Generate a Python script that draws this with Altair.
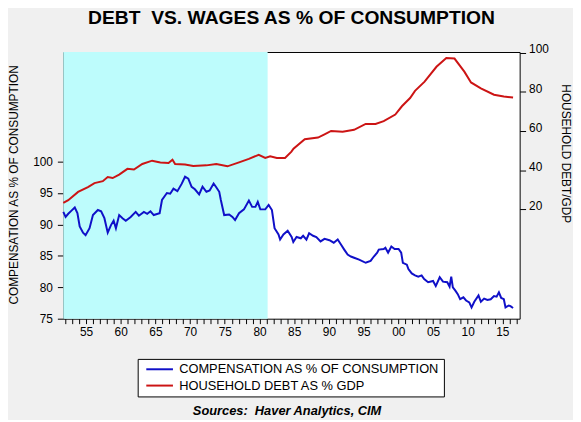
import altair as alt
import pandas as pd

FONT = "Liberation Sans"

# ---- data ----
series_names = ["COMPENSATION AS % OF CONSUMPTION", "HOUSEHOLD DEBT AS % GDP"]

comp_years = [
    1951.73, 1952.06, 1952.44, 1952.91, 1953.38, 1953.76, 1954.09, 1954.57, 1954.94, 1955.51,
    1956.00, 1956.71, 1957.18, 1957.65, 1958.13, 1958.60, 1958.98, 1959.31, 1959.78, 1960.26,
    1960.73, 1961.44, 1962.16, 1962.62, 1963.34, 1963.82, 1964.29, 1964.76, 1965.61, 1965.95,
    1966.66, 1967.13, 1967.60, 1968.17, 1968.80, 1969.27, 1969.74, 1970.22, 1970.69, 1971.30,
    1971.79, 1972.35, 1972.82, 1973.39, 1973.72, 1974.20, 1974.43, 1974.91, 1975.63, 1976.10,
    1976.48, 1977.05, 1977.76, 1978.47, 1978.94, 1979.41, 1979.75, 1980.12, 1980.83, 1981.32,
    1981.79, 1982.17, 1982.74, 1982.97, 1983.45, 1984.06, 1984.63, 1984.87, 1985.34, 1985.95,
    1986.29, 1986.76, 1987.15, 1987.72, 1988.19, 1988.80, 1989.37, 1990.08, 1990.70, 1991.27,
    1991.74, 1992.21, 1992.70, 1993.17, 1993.63, 1994.35, 1995.30, 1996.01, 1996.48, 1996.96,
    1997.19, 1997.90, 1998.14, 1998.53, 1999.00, 1999.47, 2000.04, 2000.42, 2000.66, 2001.23,
    2001.46, 2001.94, 2002.41, 2002.88, 2003.36, 2003.73, 2004.30, 2005.01, 2005.40, 2005.97,
    2006.44, 2007.06, 2007.39, 2007.63, 2007.86, 2008.20, 2008.57, 2008.91, 2009.38, 2009.77,
    2010.23, 2010.56, 2010.95, 2011.56, 2011.90, 2012.37, 2012.84, 2013.32, 2013.79, 2014.17,
    2014.50, 2014.83, 2015.21, 2015.45, 2015.92, 2016.17, 2016.54,
]
comp_values = [
    92.0, 91.2, 91.7, 92.2, 92.7, 91.8, 89.7, 88.7, 88.3, 89.4,
    91.5, 92.3, 92.1, 91.0, 88.7, 89.9, 90.6, 89.4, 91.5, 91.0,
    90.6, 91.2, 92.0, 91.4, 92.0, 91.7, 92.1, 91.5, 91.8, 93.9,
    95.0, 94.9, 95.7, 95.3, 96.5, 97.6, 97.3, 96.0, 95.6, 94.8,
    96.0, 95.2, 95.4, 96.5, 96.0, 95.2, 93.9, 91.5, 91.6, 91.2,
    90.7, 91.8, 92.4, 93.8, 92.8, 92.8, 93.6, 92.4, 92.4, 93.1,
    92.3, 89.4, 88.4, 87.6, 88.4, 89.0, 88.0, 87.2, 88.0, 87.8,
    88.2, 87.6, 88.6, 88.2, 88.0, 87.3, 87.7, 87.5, 87.1, 87.6,
    86.8, 86.0, 85.2, 84.9, 84.7, 84.4, 83.9, 84.2, 84.9, 85.5,
    86.0, 86.1, 86.3, 85.5, 86.5, 86.1, 86.1, 85.5, 83.9, 83.6,
    82.9, 82.2, 81.9, 81.7, 81.9, 81.3, 80.8, 81.0, 80.2, 81.6,
    80.9, 80.8, 80.1, 81.7, 80.0, 79.5, 78.9, 78.1, 78.4, 77.9,
    77.6, 76.8, 77.7, 78.7, 77.7, 78.2, 78.0, 78.1, 78.6, 78.5,
    79.2, 78.3, 78.1, 76.8, 77.1, 77.0, 76.7,
]

debt_years = [
    1951.73, 1952.44, 1953.86, 1955.28, 1956.22, 1957.42, 1958.13, 1958.84, 1959.78, 1960.97,
    1961.91, 1963.11, 1964.53, 1965.71, 1966.89, 1967.46, 1967.84, 1969.27, 1970.45, 1972.35,
    1973.78, 1975.38, 1977.05, 1978.47, 1979.89, 1980.83, 1981.54, 1982.50, 1983.68, 1984.60,
    1984.90, 1986.52, 1988.43, 1989.37, 1990.32, 1991.98, 1993.63, 1995.30, 1996.72, 1997.90,
    1999.57, 2000.52, 2001.70, 2002.41, 2003.79, 2005.50, 2006.92, 2008.10, 2009.52, 2010.48,
    2011.90, 2013.79, 2015.21, 2016.54,
]
debt_values = [
    23.3, 24.7, 28.9, 31.4, 33.4, 34.4, 36.5, 36.0, 37.8, 40.7,
    40.4, 43.2, 44.9, 44.0, 43.7, 45.4, 43.2, 42.9, 42.2, 42.5,
    43.2, 42.0, 44.0, 45.8, 47.9, 46.3, 47.1, 46.3, 46.3, 49.5,
    51.0, 55.9, 56.7, 58.4, 60.1, 59.7, 60.7, 63.7, 63.7, 65.1,
    68.5, 72.7, 76.9, 80.6, 85.3, 92.9, 97.4, 97.1, 90.4, 84.9,
    81.9, 78.6, 77.7, 77.2,
]

shade_start = [1951.73]
shade_end = [1981.17]

year_ticks = list(range(1952, 2018))
left_ticks = [75, 80, 85, 90, 95, 100]
right_ticks = [20, 40, 60, 80, 100]

# ---- tables ----
comp_df = pd.DataFrame({"year": comp_years, "value": comp_values, "series": series_names[0]})
debt_df = pd.DataFrame({"year": debt_years, "value": debt_values, "series": series_names[1]})
shade_df = pd.DataFrame({"start": shade_start, "end": shade_end})

BLUE = "#1010c8"
RED = "#cc1414"
CYAN = "#bdfcfc"

x_scale = alt.Scale(domain=[1951.73, 2017.49], nice=False, zero=False)
x_axis = alt.Axis(
    values=year_ticks,
    labelExpr="datum.value % 5 == 0 ? substring(toString(datum.value), 2, 4) : ''",
    grid=False, domain=False, tickSize=5, tickColor="black",
    labelPadding=3, labelFlush=False, labelOverlap=False,
    title="Sources:\u00a0 Haver Analytics, CIM",
    titleFont=FONT, titleFontSize=13, titleFontWeight="bold", titleFontStyle="italic",
    titleColor="black", titleX=226, titleY=96.6, titleBaseline="alphabetic", titleAlign="center",
)

color_scale = alt.Scale(domain=series_names, range=[BLUE, RED])
legend = alt.Legend(
    title=None, orient="none", legendX=75.3, legendY=310.7, direction="vertical",
    strokeColor="black", fillColor="white", padding=4, cornerRadius=0,
    symbolType="M-0.4,0H5.6", symbolSize=81, symbolStrokeWidth=2,
    labelFont=FONT, labelFontSize=13, labelColor="black", labelOffset=25,
    labelLimit=500, rowPadding=2.5,
)

shade = alt.Chart(shade_df).mark_rect(color=CYAN).encode(
    x=alt.X("start:Q", scale=x_scale, axis=x_axis),
    x2="end:Q",
)

comp = alt.Chart(comp_df).mark_line(strokeWidth=2).encode(
    x=alt.X("year:Q", scale=x_scale, axis=x_axis),
    y=alt.Y(
        "value:Q",
        scale=alt.Scale(domain=[75, 117.45], nice=False, zero=False),
        axis=alt.Axis(
            orient="left", values=left_ticks, grid=False, domain=False,
            tickSize=6, tickColor="black", labelPadding=5, labelOverlap=False,
            title="COMPENSATION AS % OF CONSUMPTION",
            titleFont=FONT, titleFontSize=12, titleFontWeight="normal", titleColor="black",
            titleAngle=270, titleX=-50, titleY=134, titleBaseline="middle", titleAlign="center",
        ),
    ),
    color=alt.Color("series:N", scale=color_scale, legend=legend),
)

debt = alt.Chart(debt_df).mark_line(strokeWidth=2).encode(
    x=alt.X("year:Q", scale=x_scale, axis=x_axis),
    y=alt.Y(
        "value:Q",
        scale=alt.Scale(domain=[-35.9, 100.45], nice=False, zero=False),
        axis=alt.Axis(
            orient="right", values=right_ticks, grid=False, domain=False,
            tickSize=6, tickColor="black", labelPadding=3, labelOverlap=False,
            labelBaseline="alphabetic", labelFlush=False,
            title="HOUSEHOLD DEBT/GDP",
            titleFont=FONT, titleFontSize=12, titleFontWeight="normal", titleColor="black",
            titleAngle=90, titleX=46, titleY=102.5, titleBaseline="middle", titleAlign="center",
        ),
    ),
    color=alt.Color("series:N", scale=color_scale, legend=legend),
)

chart = (
    alt.layer(shade, comp, debt)
    .resolve_scale(y="independent")
    .properties(
        width=462,
        height=270,
        autosize=alt.AutoSizeParams(type="none"),
        padding={"left": 56, "top": 42, "right": 54, "bottom": 100},
        background="#f0f0f0",
        title=alt.TitleParams(
            text="DEBT\u00a0 VS. WAGES AS % OF CONSUMPTION",
            font=FONT, fontSize=19.5, fontWeight="bold", color="black",
            anchor="middle", frame="group", offset=15,
        ),
    )
    .configure_view(fill="white", stroke="black", strokeWidth=1)
    .configure_axis(labelFont=FONT, labelFontSize=12, labelColor="black", tickWidth=1)
)

chart.save("out.html", embed_options={"renderer": "svg", "actions": False})
